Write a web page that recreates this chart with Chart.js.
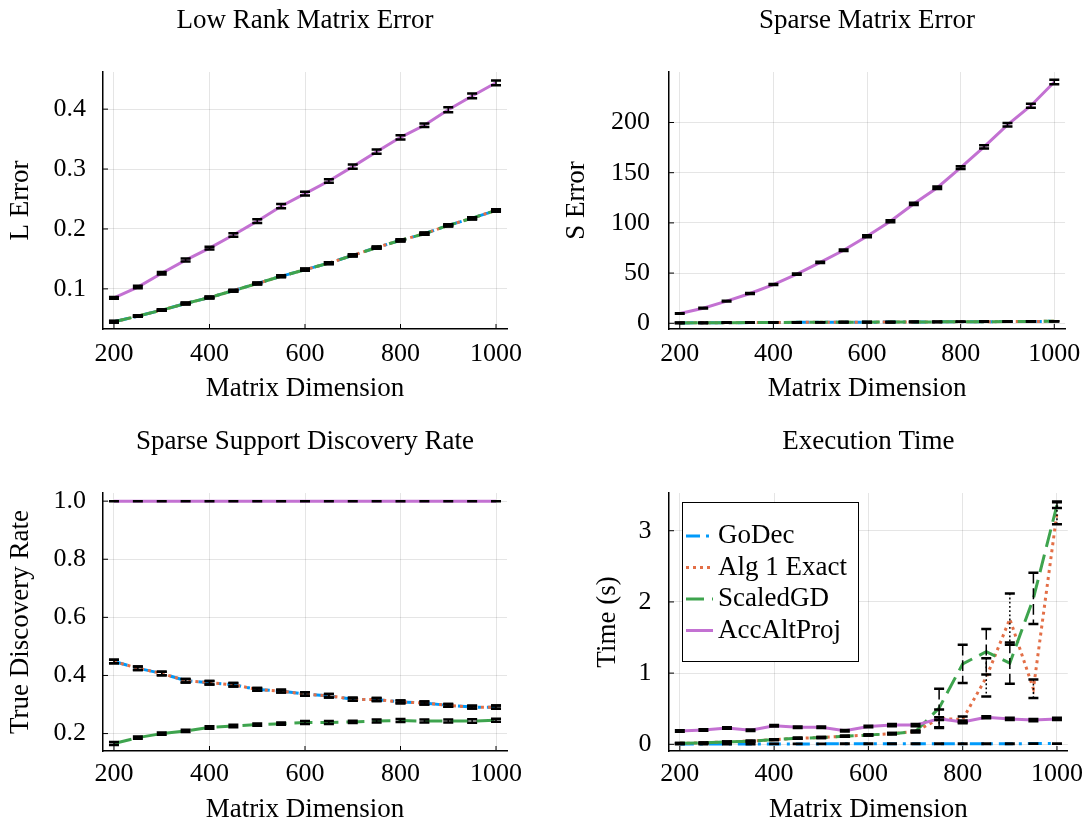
<!DOCTYPE html>
<html>
<head>
<meta charset="utf-8">
<script src="https://cdn.jsdelivr.net/npm/chart.js@4.4.0/dist/chart.umd.min.js"></script>
<style>
  html, body { margin: 0; padding: 0; background: #fff; overflow: hidden; width: 1091px; height: 821px; }
  canvas { position: absolute; }
</style>
</head>
<body>
<canvas id="lowRankChart" style="left:0;top:0" width="545" height="440"></canvas>
<canvas id="sparseChart" style="left:545px;top:0" width="546" height="440"></canvas>
<canvas id="tdrChart" style="left:0;top:410px" width="545" height="440"></canvas>
<canvas id="timeChart" style="left:545px;top:410px" width="546" height="440"></canvas>
<script>
// Matrix sizes (x axis for every panel)
const dims = [200, 250, 300, 350, 400, 450, 500, 550, 600, 650, 700, 750, 800, 850, 900, 950, 1000];
const xTicks = [200, 400, 600, 800, 1000];

// Low rank matrix error
const lowGoDec  = [0.045, 0.0545, 0.0645, 0.0755, 0.0855, 0.097, 0.109, 0.121, 0.132, 0.143, 0.156, 0.169, 0.181, 0.192, 0.206, 0.218, 0.231];
const lowAlg1   = [0.045, 0.0545, 0.0645, 0.0755, 0.0855, 0.097, 0.109, 0.121, 0.132, 0.143, 0.156, 0.169, 0.181, 0.192, 0.206, 0.218, 0.231];
const lowScaled = [0.045, 0.0545, 0.0645, 0.0755, 0.0855, 0.097, 0.109, 0.121, 0.132, 0.143, 0.156, 0.169, 0.181, 0.192, 0.206, 0.218, 0.231];
const lowAcc    = [0.085, 0.103, 0.126, 0.148, 0.168, 0.190, 0.213, 0.238, 0.259, 0.280, 0.304, 0.329, 0.353, 0.373, 0.399, 0.422, 0.444];
const lowErrSmall = [0.0012, 0.0012, 0.0012, 0.0012, 0.0013, 0.0013, 0.0013, 0.0014, 0.0014, 0.0014, 0.0015, 0.0015, 0.0015, 0.0016, 0.0016, 0.0017, 0.0018];
const lowErrAcc   = [0.0015, 0.002, 0.002, 0.0025, 0.0025, 0.003, 0.003, 0.0035, 0.003, 0.003, 0.0035, 0.0035, 0.0035, 0.003, 0.004, 0.004, 0.004];
const lowTicks = [0.1, 0.2, 0.3, 0.4];

// Sparse matrix error
const sparseGoDec  = [0.4, 0.5, 0.6, 0.7, 0.8, 0.9, 1.0, 1.1, 1.1, 1.2, 1.3, 1.4, 1.5, 1.6, 1.7, 1.8, 2.0];
const sparseAlg1   = [0.4, 0.5, 0.6, 0.7, 0.8, 0.9, 1.0, 1.1, 1.1, 1.2, 1.3, 1.4, 1.5, 1.6, 1.7, 1.8, 2.0];
const sparseScaled = [0.4, 0.5, 0.6, 0.7, 0.8, 0.9, 1.0, 1.1, 1.1, 1.2, 1.3, 1.4, 1.5, 1.6, 1.7, 1.8, 2.0];
const sparseAcc    = [9.7, 15, 22, 29.7, 38.6, 49, 60.7, 72.7, 86.7, 101.7, 119, 135, 155, 175.7, 197.7, 216.7, 240.3];
const sparseErrSmall = [0.1, 0.1, 0.1, 0.1, 0.1, 0.1, 0.1, 0.1, 0.1, 0.1, 0.1, 0.1, 0.1, 0.1, 0.1, 0.1, 0.1];
const sparseErrAcc   = [0.3, 0.4, 0.4, 0.5, 0.5, 0.6, 0.7, 0.8, 0.9, 1.0, 1.1, 1.3, 1.4, 1.6, 1.8, 2.0, 2.2];
const sparseTicks = [0, 50, 100, 150, 200];

// True discovery rate
const tdrGoDec  = [0.448, 0.425, 0.407, 0.382, 0.375, 0.368, 0.352, 0.346, 0.336, 0.330, 0.318, 0.317, 0.309, 0.305, 0.297, 0.291, 0.291];
const tdrAlg1   = [0.448, 0.425, 0.407, 0.382, 0.375, 0.368, 0.352, 0.346, 0.336, 0.330, 0.318, 0.317, 0.309, 0.305, 0.297, 0.291, 0.291];
const tdrScaled = [0.166, 0.186, 0.200, 0.209, 0.221, 0.226, 0.231, 0.234, 0.238, 0.238, 0.240, 0.243, 0.245, 0.243, 0.243, 0.243, 0.246];
const tdrAcc    = [1.0, 1.0, 1.0, 1.0, 1.0, 1.0, 1.0, 1.0, 1.0, 1.0, 1.0, 1.0, 1.0, 1.0, 1.0, 1.0, 1.0];
const tdrErrMid    = [0.006, 0.006, 0.006, 0.006, 0.006, 0.006, 0.005, 0.005, 0.006, 0.006, 0.005, 0.005, 0.005, 0.005, 0.005, 0.005, 0.006];
const tdrErrScaled = [0.005, 0.004, 0.004, 0.004, 0.004, 0.004, 0.004, 0.004, 0.005, 0.005, 0.004, 0.005, 0.005, 0.005, 0.005, 0.006, 0.005];
const tdrErrAcc    = [0, 0, 0, 0, 0, 0, 0, 0, 0, 0, 0, 0, 0, 0, 0, 0, 0];
const tdrTicks = [0.2, 0.4, 0.6, 0.8, 1.0];

// Execution time (s)
const timeGoDec  = [0.005, 0.005, 0.005, 0.005, 0.006, 0.006, 0.006, 0.007, 0.007, 0.007, 0.008, 0.008, 0.008, 0.009, 0.009, 0.010, 0.010];
const timeAlg1   = [0.014, 0.02, 0.035, 0.045, 0.066, 0.085, 0.095, 0.113, 0.13, 0.15, 0.18, 0.36, 0.35, 0.94, 1.76, 0.78, 3.25];
const timeScaled = [0.014, 0.02, 0.035, 0.045, 0.066, 0.085, 0.095, 0.113, 0.13, 0.15, 0.18, 0.51, 1.13, 1.30, 1.14, 2.05, 3.36];
const timeAcc    = [0.188, 0.20, 0.23, 0.197, 0.26, 0.24, 0.24, 0.19, 0.25, 0.27, 0.27, 0.36, 0.315, 0.38, 0.357, 0.34, 0.357];
const timeErrGoDec  = [0.003, 0.003, 0.003, 0.003, 0.003, 0.003, 0.003, 0.003, 0.003, 0.003, 0.003, 0.003, 0.003, 0.003, 0.003, 0.003, 0.003];
const timeErrAlg1   = [0.005, 0.005, 0.005, 0.005, 0.005, 0.006, 0.006, 0.006, 0.008, 0.008, 0.01, 0.13, 0.04, 0.27, 0.36, 0.13, 0.16];
const timeErrScaled = [0.005, 0.005, 0.005, 0.006, 0.006, 0.007, 0.007, 0.008, 0.008, 0.009, 0.01, 0.27, 0.27, 0.32, 0.29, 0.36, 0.04];
const timeErrAcc    = [0.01, 0.01, 0.01, 0.01, 0.01, 0.01, 0.01, 0.01, 0.01, 0.015, 0.015, 0.02, 0.02, 0.015, 0.015, 0.015, 0.015];
const timeTicks = [0, 1, 2, 3];

const seriesNames = ['GoDec', 'Alg 1 Exact', 'ScaledGD', 'AccAltProj'];

Chart.defaults.font.family = "'Liberation Serif', 'DejaVu Serif', serif";
Chart.defaults.color = '#000';

// Plots.jl-like look for each method
const styles = [
    { color: '#009AFA', dash: [14, 6, 3, 6], order: 4 },
    { color: '#E36F47', dash: [3, 4], order: 3 },
    { color: '#3EA44E', dash: [18, 8], order: 2 },
    { color: '#C371D2', dash: [], order: 1 }
];

function makeDatasets(values, errors) {
    return values.map((vals, k) => ({
        label: seriesNames[k],
        data: dims.map((d, i) => ({ x: d, y: vals[i] })),
        errors: errors[k],
        borderColor: styles[k].color,
        backgroundColor: styles[k].color,
        borderDash: styles[k].dash,
        order: styles[k].order,
        borderWidth: 3,
        pointRadius: 0,
        tension: 0,
        fill: false
    }));
}

// Black error bars with caps, drawn on top of the lines
const errorBarPlugin = {
    id: 'errorBars',
    afterDatasetsDraw(chart) {
        const ctx = chart.ctx;
        const xs = chart.scales.x, ys = chart.scales.y;
        chart.data.datasets.forEach(ds => {
            ctx.save();
            ctx.strokeStyle = '#000';
            ds.data.forEach((p, i) => {
                const e = ds.errors[i];
                const px = xs.getPixelForValue(p.x);
                const top = ys.getPixelForValue(p.y + e);
                const bot = ys.getPixelForValue(p.y - e);
                ctx.lineWidth = 1.5;
                ctx.setLineDash(ds.borderDash.length ? ds.borderDash.map(v => v * 0.6) : []);
                ctx.beginPath(); ctx.moveTo(px, top); ctx.lineTo(px, bot); ctx.stroke();
                ctx.setLineDash([]);
                ctx.lineWidth = 2.5;
                ctx.beginPath();
                ctx.moveTo(px - 5, top); ctx.lineTo(px + 5, top);
                ctx.moveTo(px - 5, bot); ctx.lineTo(px + 5, bot);
                ctx.stroke();
            });
            ctx.restore();
        });
    }
};

// Small tick marks pointing into the plot
const innerTicksPlugin = {
    id: 'innerTicks',
    afterDraw(chart) {
        const ctx = chart.ctx;
        const area = chart.chartArea;
        ctx.save();
        ctx.strokeStyle = '#000';
        ctx.lineWidth = 1;
        ctx.beginPath();
        chart.scales.x.ticks.forEach(t => {
            const px = chart.scales.x.getPixelForValue(t.value);
            ctx.moveTo(px, area.bottom); ctx.lineTo(px, area.bottom - 5);
        });
        chart.scales.y.ticks.forEach(t => {
            const py = chart.scales.y.getPixelForValue(t.value);
            ctx.moveTo(area.left, py); ctx.lineTo(area.left + 5, py);
        });
        ctx.stroke();
        ctx.restore();
    }
};

// Boxed legend inside the execution time plot
const boxLegendPlugin = {
    id: 'boxLegend',
    afterDraw(chart) {
        if (!chart.options.plugins.boxLegend.show) return;
        const ctx = chart.ctx;
        const area = chart.chartArea;
        const bx = area.left + 13, by = area.top + 9, bw = 176, bh = 159;
        ctx.save();
        ctx.fillStyle = '#fff';
        ctx.fillRect(bx, by, bw, bh);
        ctx.strokeStyle = '#000';
        ctx.lineWidth = 1;
        ctx.strokeRect(bx + 0.5, by + 0.5, bw, bh);
        chart.data.datasets.forEach((ds, i) => {
            const cy = by + 34 + i * 31.5;
            ctx.strokeStyle = ds.borderColor;
            ctx.lineWidth = 3;
            ctx.setLineDash(ds.borderDash);
            ctx.beginPath(); ctx.moveTo(bx + 4, cy); ctx.lineTo(bx + 31, cy); ctx.stroke();
            ctx.setLineDash([]);
            ctx.fillStyle = '#000';
            ctx.font = "27px 'Liberation Serif'";
            ctx.textBaseline = 'middle';
            ctx.textAlign = 'left';
            ctx.fillText(ds.label, bx + 36, cy);
        });
        ctx.restore();
    }
};

function makePanel(id, cfg) {
    const g = cfg.geom;
    return new Chart(document.getElementById(id), {
        type: 'line',
        data: { datasets: makeDatasets(cfg.values, cfg.errors) },
        plugins: [errorBarPlugin, innerTicksPlugin, boxLegendPlugin],
        options: {
            responsive: false,
            animation: false,
            layout: { padding: { left: 0, right: g.padRight, top: 0, bottom: 0 } },
            plugins: {
                legend: { display: false },
                tooltip: { enabled: false },
                boxLegend: { show: !!cfg.legend },
                title: {
                    display: true,
                    text: cfg.title,
                    fullSize: false,
                    color: '#000',
                    font: { size: 27, weight: 'normal' },
                    padding: { top: g.titleTop, bottom: g.titleBottom }
                }
            },
            scales: {
                x: {
                    type: 'linear',
                    min: 177,
                    max: 1023,
                    afterBuildTicks: s => { s.ticks = xTicks.map(v => ({ value: v })); },
                    afterFit: s => { s.height = g.xAxisHeight; },
                    grid: { drawTicks: false, color: 'rgba(0,0,0,0.1)', lineWidth: 1 },
                    border: { color: '#000', width: 1.5 },
                    ticks: { padding: g.xTickPad, font: { size: 26 }, color: '#000', maxRotation: 0,
                             callback: v => String(v) },
                    title: {
                        display: true,
                        text: 'Matrix Dimension',
                        font: { size: 27 },
                        color: '#000',
                        padding: { top: 0, bottom: g.xTitlePad }
                    }
                },
                y: {
                    type: 'linear',
                    min: cfg.yMin,
                    max: cfg.yMax,
                    afterBuildTicks: s => { s.ticks = cfg.yTicks.map(v => ({ value: v })); },
                    afterFit: s => { s.width = g.yAxisWidth; },
                    grid: { drawTicks: false, color: 'rgba(0,0,0,0.1)', lineWidth: 1 },
                    border: { color: '#000', width: 1.5 },
                    ticks: {
                        padding: g.yTickPad,
                        font: { size: 26 },
                        color: '#000',
                        callback: cfg.tickFormat
                    },
                    title: {
                        display: true,
                        text: cfg.yLabel,
                        font: { size: 27 },
                        color: '#000',
                        padding: { top: g.yTitlePad, bottom: 0 }
                    }
                }
            }
        }
    });
}

const oneDecimal = v => v.toFixed(1);
const integer = v => String(v);

makePanel('lowRankChart', {
    title: 'Low Rank Matrix Error',
    yLabel: 'L Error',
    values: [lowGoDec, lowAlg1, lowScaled, lowAcc],
    errors: [lowErrSmall, lowErrSmall, lowErrSmall, lowErrAcc],
    yMin: 0.033, yMax: 0.462, yTicks: lowTicks, tickFormat: oneDecimal,
    geom: { padRight: 38, yAxisWidth: 103, xAxisHeight: 111, titleTop: 4.8, titleBottom: 34.8,
            xTickPad: 10, xTitlePad: 34.8, yTitlePad: 4.8, yTickPad: 17 }
});

makePanel('sparseChart', {
    title: 'Sparse Matrix Error',
    yLabel: 'S Error',
    values: [sparseGoDec, sparseAlg1, sparseScaled, sparseAcc],
    errors: [sparseErrSmall, sparseErrSmall, sparseErrSmall, sparseErrAcc],
    yMin: -5.7, yMax: 250.3, yTicks: sparseTicks, tickFormat: integer,
    geom: { padRight: 19, yAxisWidth: 124, xAxisHeight: 111, titleTop: 4.8, titleBottom: 34.8,
            xTickPad: 10, xTitlePad: 34.8, yTitlePad: 15.8, yTickPad: 19 }
});

makePanel('tdrChart', {
    title: 'Sparse Support Discovery Rate',
    yLabel: 'True Discovery Rate',
    values: [tdrGoDec, tdrAlg1, tdrScaled, tdrAcc],
    errors: [tdrErrMid, tdrErrMid, tdrErrScaled, tdrErrAcc],
    yMin: 0.14, yMax: 1.028, yTicks: tdrTicks, tickFormat: oneDecimal,
    geom: { padRight: 38, yAxisWidth: 103, xAxisHeight: 99, titleTop: 15.8, titleBottom: 34.8,
            xTickPad: 7.4, xTitlePad: 23.8, yTitlePad: 4.8, yTickPad: 17 }
});

makePanel('timeChart', {
    title: 'Execution Time',
    yLabel: 'Time (s)',
    values: [timeGoDec, timeAlg1, timeScaled, timeAcc],
    errors: [timeErrGoDec, timeErrAlg1, timeErrScaled, timeErrAcc],
    yMin: -0.094, yMax: 3.53, yTicks: timeTicks, tickFormat: integer,
    legend: true,
    geom: { padRight: 19, yAxisWidth: 124, xAxisHeight: 99, titleTop: 15.8, titleBottom: 34.8,
            xTickPad: 7.4, xTitlePad: 23.8, yTitlePad: 46.8, yTickPad: 17.5 }
});
</script>
</body>
</html>
